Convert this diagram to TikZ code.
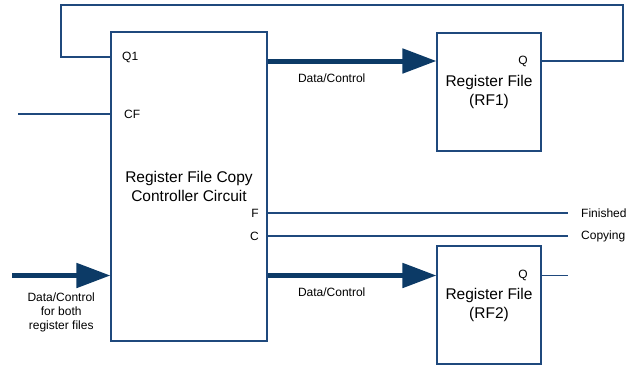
\documentclass[tikz,border=0pt]{standalone}
\usepackage{fontspec}
\setmainfont{Liberation Sans}
\usepackage{xcolor}
\usetikzlibrary{positioning,arrows.meta}
\definecolor{wirecol}{RGB}{31,73,125}
\definecolor{buscol}{RGB}{12,58,102}

\begin{document}
\begin{tikzpicture}[x=1pt,y=-1pt,
  block/.style={draw=wirecol,line width=1.1pt,align=center,
    font=\fontsize{15.5}{18.5}\selectfont},
  port/.style={inner sep=1pt,text=black,font=\fontsize{12}{14}\selectfont},
  sig/.style={inner sep=1pt,text=black,align=center,font=\fontsize{12}{14}\selectfont},
  wire/.style={wirecol,line width=1.1pt},
  bus/.style={buscol,line width=5pt,-{Triangle[length=34pt,width=24pt]}}]
  \useasboundingbox (0,0) rectangle (636,367);
  \node[block,minimum width=156pt,minimum height=309pt] (ctrl) at (189,186.5)
    {Register File Copy\\Controller Circuit};
  \node[block,minimum width=104pt,minimum height=118pt] (rf1) at (489,92)
    {Register File\\(RF1)};
  \node[block,minimum width=104pt,minimum height=118pt] (rf2) at (489,305)
    {Register File\\(RF2)};
  \node[port,anchor=west] (q1) at (121,57) {Q1};
  \node[port,anchor=west] (cf) at (123,114) {CF};
  \node[port,anchor=east] (f) at (260,213) {F};
  \node[port,anchor=east] (c) at (260,236) {C};
  \node[port] (rf1q) at (523,61) {Q};
  \node[port] (rf2q) at (523,275.5) {Q};
  \coordinate (loopR) at (623,5);
  \coordinate (loopL) at (61,5);
  \coordinate (cfin) at (18,114);
  \coordinate (fend) at (568,213);
  \coordinate (cend) at (568,236);
  \coordinate (rf2out) at (568,275.5);
  \coordinate (busin) at (12,275.5);
  \node[sig,anchor=west,right=12pt of fend] (fin) {Finished};
  \node[sig,anchor=west,right=12pt of cend] (copy) {Copying};
  \draw[wire] (rf1.east |- rf1q) -| (loopR) -- (loopL) |- (ctrl.west |- q1);
  \draw[wire] (cfin) -- (ctrl.west |- cf);
  \draw[wire] (ctrl.east |- f) -- (fend);
  \draw[wire] (ctrl.east |- c) -- (cend);
  \draw[wire] (rf2.east |- rf2q) -- (rf2out);
  \draw[bus] (ctrl.east |- rf1q) -- node[sig,pos=0.38,below=9pt] {Data/Control} (rf1.west |- rf1q);
  \draw[bus] (ctrl.east |- rf2q) -- node[sig,pos=0.38,below=9pt] {Data/Control} (rf2.west |- rf2q);
  \draw[bus] (busin) -- node[sig,below=14pt] {Data/Control\\for both\\register files} (ctrl.west |- busin);
\end{tikzpicture}
\end{document}
